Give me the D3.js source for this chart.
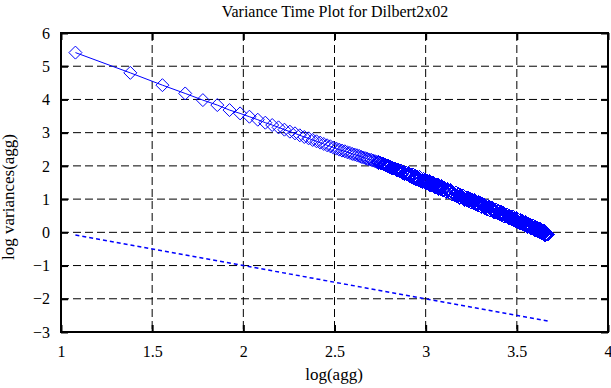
<!DOCTYPE html>
<html lang="en">
    <head>
        <meta charset="utf-8">
        <title>Variance Time Plot</title>
        <script src="https://cdn.jsdelivr.net/npm/d3@7/dist/d3.min.js" charset="utf-8"></script>
        <style type="text/css">
            body { margin: 0; background: #fff; }
        </style>
    </head>
    <body>
        <div id="chart"></div>
        <script>
            var FONT = "'Liberation Serif', 'Times New Roman', Times, 'DejaVu Serif', serif";

            // aggregation levels (x axis shows log10 of these)
            var agg = [12,24,36,48,60,72,84,96,108,120,
                132,144,156,168,180,192,204,216,228,240,
                252,264,276,288,300,312,324,336,348,360,
                372,384,396,408,420,432,444,456,468,480,
                492,504,516,528,540,552,564,576,588,600,
                612,624,636,648,660,672,684,696,708,720,
                732,744,756,768,780,792,804,816,828,840,
                852,864,876,888,900,912,924,936,948,960,
                972,984,996,1008,1020,1032,1044,1056,1068,1080,
                1092,1104,1116,1128,1140,1152,1164,1176,1188,1200,
                1224,1248,1272,1296,1320,1344,1368,1392,1416,1440,
                1464,1488,1512,1536,1560,1584,1608,1632,1656,1680,
                1704,1728,1752,1776,1800,1824,1848,1872,1896,1920,
                1944,1968,1992,2016,2040,2064,2088,2112,2136,2160,
                2184,2208,2232,2256,2280,2304,2328,2352,2376,2400,
                2436,2472,2508,2544,2580,2616,2652,2688,2724,2760,
                2796,2832,2868,2904,2940,2976,3012,3048,3084,3120,
                3156,3192,3228,3264,3300,3336,3372,3408,3444,3480,
                3516,3552,3588,3624,3660,3696,3732,3768,3804,3840,
                3876,3912,3948,3984,4020,4056,4092,4128,4164,4200,
                4236,4272,4308,4344,4380,4416,4452,4488,4524,4560,
                4596,4632,4668];
            // log variances
            var logVar = [5.41,4.80,4.43,4.18,3.98,3.83,3.68,3.58,3.48,3.39,
                3.30,3.23,3.16,3.09,3.03,2.98,2.92,2.87,2.83,2.78,
                2.74,2.70,2.66,2.62,2.59,2.55,2.52,2.49,2.46,2.44,
                2.41,2.39,2.36,2.34,2.32,2.30,2.27,2.25,2.23,2.21,
                2.19,2.18,2.16,2.14,2.12,2.10,2.09,2.07,2.05,2.03,
                2.01,1.99,1.97,1.95,1.93,1.92,1.90,1.88,1.87,1.85,
                1.86,1.79,1.82,1.76,1.80,1.74,1.77,1.70,1.73,1.67,
                1.74,1.63,1.69,1.60,1.67,1.59,1.66,1.54,1.60,1.53,
                1.61,1.51,1.56,1.47,1.55,1.47,1.54,1.42,1.48,1.41,
                1.49,1.39,1.45,1.36,1.44,1.36,1.43,1.32,1.38,1.31,
                1.38,1.27,1.32,1.22,1.29,1.20,1.26,1.15,1.20,1.12,
                1.20,1.09,1.14,1.05,1.12,1.04,1.10,0.99,1.04,0.97,
                1.04,0.94,1.00,0.90,0.98,0.89,0.96,0.85,0.91,0.83,
                0.91,0.81,0.87,0.77,0.85,0.77,0.84,0.73,0.79,0.71,
                0.79,0.69,0.75,0.66,0.74,0.66,0.73,0.62,0.68,0.61,
                0.68,0.58,0.63,0.54,0.62,0.53,0.60,0.48,0.54,0.47,
                0.54,0.44,0.50,0.41,0.48,0.40,0.47,0.36,0.42,0.34,
                0.42,0.32,0.38,0.28,0.36,0.28,0.35,0.24,0.30,0.22,
                0.30,0.20,0.26,0.17,0.25,0.17,0.24,0.13,0.19,0.12,
                0.20,0.10,0.16,0.07,0.15,0.07,0.14,0.03,0.09,0.02,
                0.10,0.00,0.06,-0.03,0.05,-0.03,0.04,-0.07,0.00,-0.07,
                -0.02,-0.07,-0.06];
            // reference line (dotted), end points
            var refX = [1.079, 3.670];
            var refY = [-0.08, -2.67];

            var xTicks = [1, 1.5, 2, 2.5, 3, 3.5, 4];
            var yTicks = [-3, -2, -1, 0, 1, 2, 3, 4, 5, 6];

            var margin = {top: 33, right: 3, bottom: 56, left: 61};
            var width = 611 - margin.left - margin.right,
                height = 388 - margin.top - margin.bottom;

            var root = d3.select("#chart").append("svg")
                .attr("width", 611)
                .attr("height", 388)
                .style("font-family", FONT);
            var svg = root.append("g")
                .attr("transform", "translate(" + margin.left + "," + margin.top + ")");

            var x = d3.scaleLinear().domain([1, 4]).range([0, width]);
            var y = d3.scaleLinear().domain([-3, 6]).range([height, 0]);

            // grid
            svg.append("g").selectAll("line").data(xTicks.slice(1, -1)).enter().append("line")
                .attr("x1", d => x(d)).attr("x2", d => x(d))
                .attr("y1", 0).attr("y2", height)
                .attr("stroke", "#000").attr("stroke-dasharray", "8,4");
            svg.append("g").selectAll("line").data(yTicks.slice(1, -1)).enter().append("line")
                .attr("y1", d => y(d)).attr("y2", d => y(d))
                .attr("x1", 0).attr("x2", width)
                .attr("stroke", "#000").attr("stroke-dasharray", "8,4");

            // axes, ticks pointing inwards on all four sides
            var xAxis = d3.axisBottom(x).tickValues(xTicks).tickSize(-7).tickPadding(14).tickFormat(d => String(d));
            var yAxis = d3.axisLeft(y).tickValues(yTicks).tickSize(-7).tickPadding(11);
            var gx = svg.append("g").attr("transform", "translate(0," + height + ")").call(xAxis);
            var gy = svg.append("g").call(yAxis);
            var gxt = svg.append("g").call(d3.axisTop(x).tickValues(xTicks).tickSize(-7).tickFormat(""));
            var gyr = svg.append("g").attr("transform", "translate(" + width + ",0)")
                .call(d3.axisRight(y).tickValues(yTicks).tickSize(-7).tickFormat(""));
            [gx, gy, gxt, gyr].forEach(function(g) {
                g.attr("font-family", FONT).attr("font-size", 16);
                g.select(".domain").remove();
                g.selectAll(".tick line").attr("stroke", "#000").attr("stroke-width", 2);
                g.selectAll(".tick text").attr("fill", "#000");
            });

            svg.append("rect")
                .attr("width", width).attr("height", height)
                .attr("fill", "none").attr("stroke", "#000").attr("stroke-width", 2);

            // data
            var pts = agg.map(function(a, i) { return {x: Math.log10(a), y: logVar[i]}; });

            svg.append("path")
                .datum(pts)
                .attr("fill", "none").attr("stroke", "#0000ff").attr("stroke-width", 1)
                .attr("d", d3.line().x(d => x(d.x)).y(d => y(d.y)));

            // sparse markers drawn smooth, the dense tail aliased so it reads as a solid band
            svg.append("g").selectAll("path").data(pts).enter().append("path")
                .attr("d", "M0,-6.5L6.5,0L0,6.5L-6.5,0Z")
                .attr("transform", d => "translate(" + x(d.x) + "," + y(d.y) + ")")
                .attr("fill", "none").attr("stroke", "#0000ff").attr("stroke-width", 1)
                .attr("shape-rendering", (d, i) => i >= 45 ? "crispEdges" : "auto");

            svg.append("path")
                .datum(refX.map((v, i) => [v, refY[i]]))
                .attr("fill", "none").attr("stroke", "#0000ff").attr("stroke-width", 1.5)
                .attr("stroke-dasharray", "4,3")
                .attr("d", d3.line().x(d => x(d[0])).y(d => y(d[1])));

            // labels
            root.append("text")
                .attr("x", 335).attr("y", 17)
                .attr("text-anchor", "middle").attr("font-size", 16).attr("fill", "#000")
                .text("Variance Time Plot for Dilbert2x02");
            root.append("text")
                .attr("x", 334).attr("y", 380)
                .attr("text-anchor", "middle").attr("font-size", 17).attr("fill", "#000")
                .text("log(agg)");
            root.append("text")
                .attr("transform", "translate(14,197) rotate(-90)")
                .attr("text-anchor", "middle").attr("font-size", 17).attr("fill", "#000")
                .text("log variances(agg)");
        </script>
    </body>
</html>
